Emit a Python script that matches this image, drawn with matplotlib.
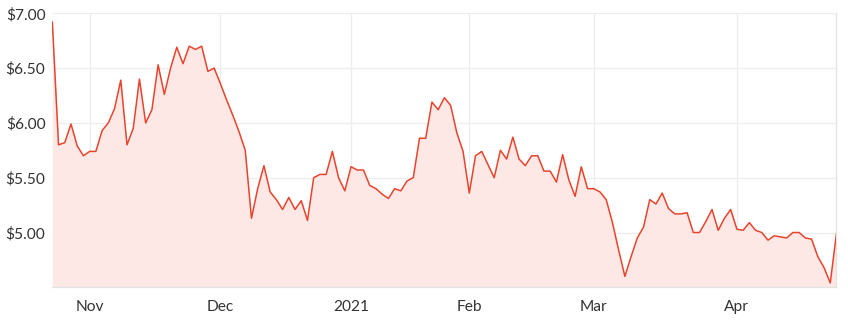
import matplotlib.pyplot as plt
from matplotlib.ticker import FuncFormatter

# closing prices, one per ASX trading day (23 Oct 2020 - 27 Apr 2021)
prices = [
    6.92, 5.80, 5.82, 5.99, 5.79, 5.70, 5.74, 5.74, 5.93, 6.00,
    6.13, 6.39, 5.80, 5.95, 6.40, 6.00, 6.12, 6.53, 6.26, 6.50,
    6.69, 6.54, 6.70, 6.67, 6.70, 6.47, 6.50, 6.36, 6.21, 6.07,
    5.92, 5.75, 5.13, 5.40, 5.61, 5.37, 5.30, 5.21, 5.32, 5.21,
    5.29, 5.11, 5.50, 5.53, 5.53, 5.74, 5.50, 5.38, 5.60, 5.57,
    5.57, 5.43, 5.40, 5.35, 5.31, 5.40, 5.38, 5.47, 5.50, 5.86,
    5.86, 6.19, 6.12, 6.23, 6.16, 5.91, 5.74, 5.36, 5.70, 5.74,
    5.62, 5.50, 5.75, 5.67, 5.87, 5.67, 5.61, 5.70, 5.70, 5.56,
    5.56, 5.46, 5.71, 5.48, 5.33, 5.60, 5.40, 5.40, 5.37, 5.30,
    5.09, 4.84, 4.60, 4.78, 4.95, 5.05, 5.30, 5.26, 5.36, 5.22,
    5.17, 5.17, 5.18, 5.00, 5.00, 5.10, 5.21, 5.02, 5.13, 5.21,
    5.03, 5.02, 5.09, 5.02, 5.00, 4.93, 4.97, 4.96, 4.95, 5.00,
    5.00, 4.95, 4.94, 4.78, 4.68, 4.54, 4.99,
]

# first trading day of each month (index into prices)
tick_pos = [6, 27, 48, 67, 87, 110]
tick_labels = ['Nov', 'Dec', '2021', 'Feb', 'Mar', 'Apr']
y_ticks = [5.0, 5.5, 6.0, 6.5, 7.0]

plt.rcParams['font.family'] = ['Lato', 'DejaVu Sans']

fig = plt.figure(figsize=(8.48, 3.23), dpi=100)
ax = fig.add_axes([0.0617, 0.1105, 0.9247, 0.8483])

x = list(range(len(prices)))
ax.fill_between(x, prices, 4.5, color='#fde8e5', lw=0, zorder=1)
ax.plot(x, prices, color='#e8432d', lw=1.1, zorder=3)

ax.set_xlim(0, len(prices) - 1)
ax.set_ylim(4.5, 7.0)
ax.set_xticks(tick_pos)
ax.set_xticklabels(tick_labels)
ax.set_yticks(y_ticks)
ax.yaxis.set_major_formatter(FuncFormatter(lambda v, p: f'${v:.2f}'))

ax.grid(True, color='#ededed', lw=0.9, zorder=0)
ax.set_axisbelow(True)
for side in ['top', 'left']:
    ax.spines[side].set_visible(False)
for side in ['right', 'bottom']:
    ax.spines[side].set_color('#e3e3e3')
    ax.spines[side].set_linewidth(0.9)

ax.tick_params(axis='both', length=0, labelsize=11.2, colors='#333333')
ax.tick_params(axis='x', pad=9)
ax.tick_params(axis='y', pad=5)

plt.savefig('out.png', dpi=100)
